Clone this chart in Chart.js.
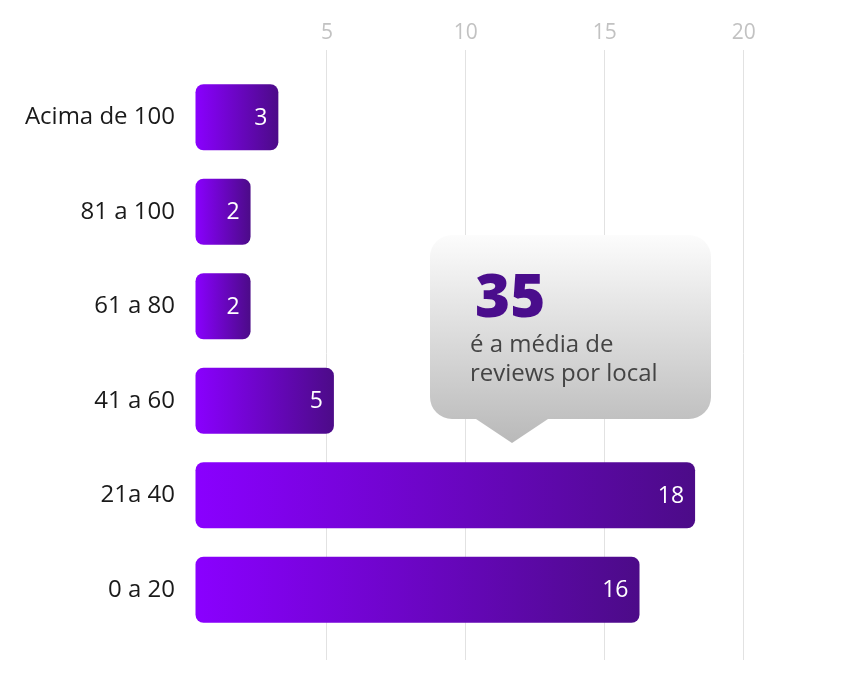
<!DOCTYPE html>
<html>
<head>
<meta charset="utf-8">
<script src="https://cdn.jsdelivr.net/npm/chart.js@4.4.1/dist/chart.umd.min.js"></script>
<style>
  html, body { margin: 0; background: #fff; }
</style>
</head>
<body>
<canvas id="chart" width="851" height="690"></canvas>
<script>
const categories = ['Acima de 100', '81 a 100', '61 a 80', '41 a 60', '21a 40', '0 a 20'];
const counts = [3, 2, 2, 5, 18, 16];
const tickValues = [5, 10, 15, 20];
const averageValue = '35';
const averageText = ['é a média de', 'reviews por local'];

const FONT = "'Open Sans', sans-serif";
const BAR_SHIFT = 7; // bars sit a little right of the zero line in the original

// each bar gets its own left-to-right gradient
function barGradient(context) {
  const chart = context.chart;
  const x = chart.scales.x;
  if (!x || !context.parsed) return '#6a06c8';
  const x0 = x.getPixelForValue(0);
  const x1 = x.getPixelForValue(context.parsed.x);
  if (!Number.isFinite(x0) || !Number.isFinite(x1) || x0 === x1) return '#6a06c8';
  const g = chart.ctx.createLinearGradient(x0, 0, x1, 0);
  g.addColorStop(0, '#8a00ff');
  g.addColorStop(1, '#4c0b88');
  return g;
}

const barLayer = {
  id: 'barLayer',
  beforeDatasetsDraw(chart) {
    const { ctx, chartArea, scales } = chart;
    // grid lines run a bit past the bottom of the plot
    ctx.save();
    ctx.strokeStyle = '#e2e2e2';
    ctx.lineWidth = 1;
    tickValues.forEach(v => {
      const px = Math.round(scales.x.getPixelForValue(v) - 0.5) + 0.5;
      ctx.beginPath();
      ctx.moveTo(px, chartArea.bottom);
      ctx.lineTo(px, chartArea.bottom + 23);
      ctx.stroke();
    });
    ctx.restore();
    ctx.save();
    ctx.translate(BAR_SHIFT, 0);
  },
  afterDatasetsDraw(chart) {
    const { ctx } = chart;
    const meta = chart.getDatasetMeta(0);
    ctx.fillStyle = '#ffffff';
    ctx.font = '23px ' + FONT;
    ctx.textAlign = 'right';
    ctx.textBaseline = 'middle';
    meta.data.forEach((bar, i) => {
      ctx.fillText(String(counts[i]), bar.x - 11, bar.y + 1);
    });
    ctx.restore();
  }
};

const averageBox = {
  id: 'averageBox',
  afterDraw(chart) {
    const { ctx } = chart;
    const left = 430, top = 235, right = 711, bottom = 419, r = 22;
    const tipX = 512, tipY = 443, half = 36;
    ctx.save();
    const g = ctx.createLinearGradient(0, top, 0, tipY);
    g.addColorStop(0, '#fcfcfc');
    g.addColorStop(1, '#b9b9b9');
    ctx.fillStyle = g;
    ctx.beginPath();
    ctx.moveTo(left + r, top);
    ctx.lineTo(right - r, top);
    ctx.arcTo(right, top, right, top + r, r);
    ctx.lineTo(right, bottom - r);
    ctx.arcTo(right, bottom, right - r, bottom, r);
    ctx.lineTo(tipX + half, bottom);
    ctx.lineTo(tipX, tipY);
    ctx.lineTo(tipX - half, bottom);
    ctx.lineTo(left + r, bottom);
    ctx.arcTo(left, bottom, left, bottom - r, r);
    ctx.lineTo(left, top + r);
    ctx.arcTo(left, top, left + r, top, r);
    ctx.closePath();
    ctx.fill();

    ctx.textAlign = 'left';
    ctx.textBaseline = 'alphabetic';
    ctx.fillStyle = '#4a0d8c';
    ctx.font = '800 60px ' + FONT;
    ctx.fillText(averageValue, 475, 317);
    ctx.fillStyle = '#444444';
    ctx.font = '24px ' + FONT;
    ctx.fillText(averageText[0], 470, 352);
    ctx.fillText(averageText[1], 470, 381);
    ctx.restore();
  }
};

new Chart(document.getElementById('chart'), {
  type: 'bar',
  data: {
    labels: categories,
    datasets: [{
      data: counts,
      backgroundColor: barGradient,
      borderRadius: 8,
      borderSkipped: false,
      categoryPercentage: 1,
      barPercentage: 0.7
    }]
  },
  options: {
    indexAxis: 'y',
    responsive: false,
    animation: false,
    layout: { padding: { top: 0, right: 24, bottom: 53, left: 0 } },
    plugins: {
      legend: { display: false },
      tooltip: { enabled: false }
    },
    scales: {
      x: {
        position: 'top',
        min: 0,
        max: 23,
        border: { display: false },
        grid: {
          color: ctx => (ctx.tick && tickValues.includes(ctx.tick.value)) ? '#e2e2e2' : 'rgba(0,0,0,0)',
          tickLength: 20
        },
        ticks: {
          stepSize: 5,
          padding: 4,
          color: '#c2c2c2',
          font: { family: FONT, size: 21 },
          callback: v => tickValues.includes(v) ? v : ''
        },
        afterFit: scale => { scale.height = 70; }
      },
      y: {
        border: { display: false },
        grid: { display: false, drawTicks: false },
        ticks: {
          padding: 13,
          color: '#1a1a1a',
          font: { family: FONT, size: 24 }
        },
        afterFit: scale => { scale.width = 188; }
      }
    }
  },
  plugins: [barLayer, averageBox]
});
</script>
</body>
</html>
